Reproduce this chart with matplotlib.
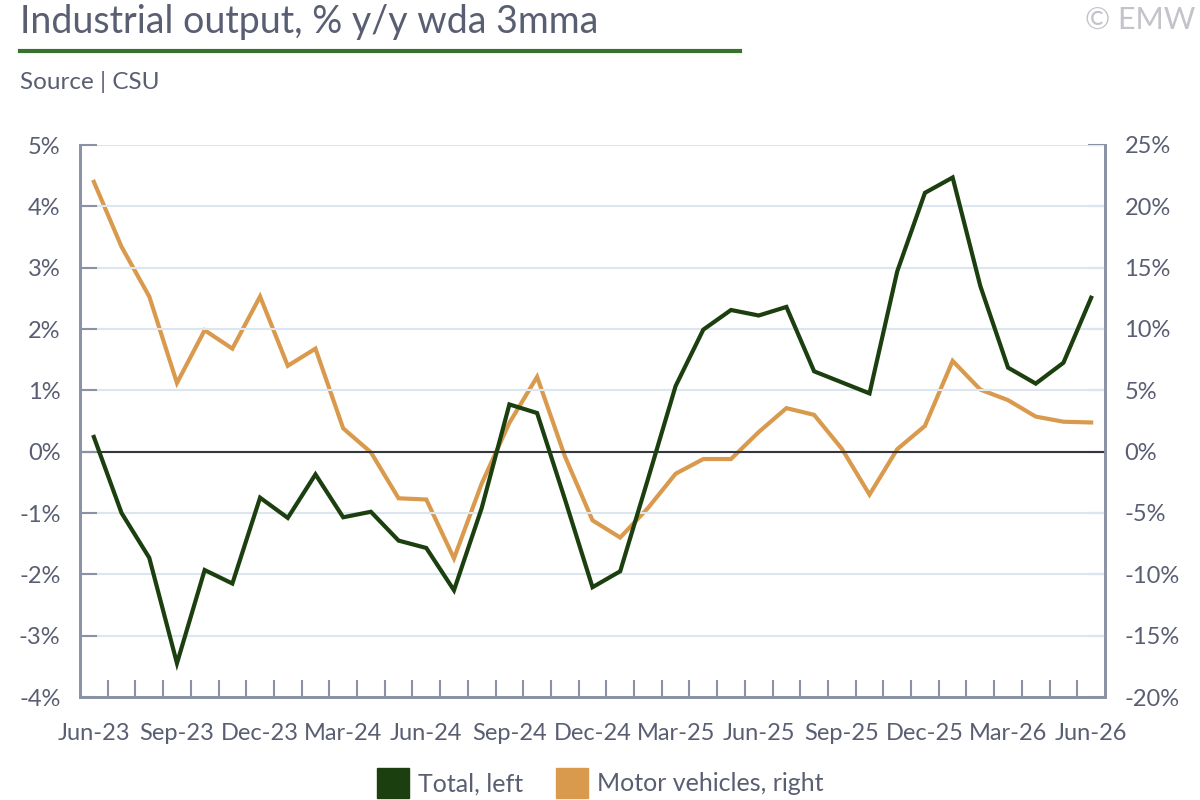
import matplotlib
matplotlib.use("Agg")
import matplotlib.pyplot as plt
from matplotlib.patches import Patch
from matplotlib.lines import Line2D
import numpy as np

plt.rcParams['font.family'] = ['Lato', 'DejaVu Sans']

months = ["Jun-23", "Jul-23", "Aug-23", "Sep-23", "Oct-23", "Nov-23", "Dec-23",
          "Jan-24", "Feb-24", "Mar-24", "Apr-24", "May-24", "Jun-24", "Jul-24",
          "Aug-24", "Sep-24", "Oct-24", "Nov-24", "Dec-24", "Jan-25", "Feb-25",
          "Mar-25", "Apr-25", "May-25", "Jun-25", "Jul-25", "Aug-25", "Sep-25",
          "Oct-25", "Nov-25", "Dec-25", "Jan-26", "Feb-26", "Mar-26", "Apr-26",
          "May-26", "Jun-26"]

# total industrial output, left axis (%)
total = [0.24, -1.00, -1.73, -3.45, -1.93, -2.15, -0.75, -1.08, -0.37, -1.07,
         -0.98, -1.45, -1.57, -2.26, -0.92, 0.77, 0.63, -0.77, -2.21, -1.95,
         -0.45, 1.07, 1.99, 2.31, 2.22, 2.36, 1.31, 1.13, 0.95, 2.94, 4.22,
         4.47, 2.70, 1.37, 1.11, 1.45, 2.51]

# motor vehicles, right axis (%)
motor = [22.0, 16.7, 12.65, 5.6, 9.9, 8.4, 12.65, 7.0, 8.4, 1.9, -0.05, -3.8,
         -3.9, -8.7, -2.6, 2.35, 6.1, -0.36, -5.6, -7.0, -4.6, -1.8, -0.6, -0.6,
         1.6, 3.55, 3.0, 0.24, -3.5, 0.2, 2.1, 7.4, 5.06, 4.2, 2.86, 2.44, 2.38]

left_ticks = [-4, -3, -2, -1, 0, 1, 2, 3, 4, 5]
right_ticks = [-20, -15, -10, -5, 0, 5, 10, 15, 20, 25]

green = "#1c3f0f"
orange = "#d99a4e"
txt = "#5a5e72"
spine = "#8a92a4"
grid = "#dbe6f1"

fig = plt.figure(figsize=(12, 8), dpi=100)
ax = fig.add_axes([80 / 1200, 1 - 697 / 800, 1025 / 1200, 552 / 800])
ax2 = ax.twinx()

x = np.arange(len(months))

for v in left_ticks[1:]:
    ax.axhline(v, color=grid, lw=1.5, zorder=0)
ax.axhline(0, color="#33363d", lw=1.5, zorder=1)

ax.plot(x, total, color=green, lw=3, zorder=3, solid_joinstyle="miter")
ax2.plot(x, motor, color=orange, lw=3, zorder=2, solid_joinstyle="miter")
ax.set_zorder(ax2.get_zorder() + 1)
ax.patch.set_visible(False)

ax.set_xlim(-0.5, len(months) - 0.5)
ax.set_ylim(-4, 5)
ax2.set_ylim(-20, 25)

ax.set_yticks(left_ticks)
ax.set_yticklabels([f"{v}%" for v in left_ticks])
ax2.set_yticks(right_ticks)
ax2.set_yticklabels([f"{v}%" for v in right_ticks])

ax.set_xticks(x[::3])
ax.set_xticklabels(months[::3])
ax.set_xticks(np.arange(0.5, len(months) - 1, 1), minor=True)

ax.tick_params(axis="x", which="major", length=0, pad=19, labelsize=17, labelcolor=txt)
ax.tick_params(axis="x", which="minor", direction="in", length=12, width=1.5, color=spine)
ax.tick_params(axis="y", direction="in", length=12, width=1.5, color=spine,
               labelsize=17, labelcolor=txt, pad=14)
ax2.tick_params(axis="y", direction="in", length=12, width=1.5, color=spine,
                labelsize=17, labelcolor=txt, pad=14)

for a in (ax, ax2):
    a.spines["top"].set_visible(False)
    for s in ("left", "right", "bottom"):
        a.spines[s].set_color(spine)
        a.spines[s].set_linewidth(2)

# title block
fig.text(20 / 1200, 1 - 22 / 800, "Industrial output, % y/y wda 3mma", fontsize=27,
         color=txt, va="center", ha="left")
fig.add_artist(Line2D([20 / 1200, 740 / 1200], [1 - 51 / 800, 1 - 51 / 800],
                      color="#3b7130", lw=3))
fig.text(20 / 1200, 1 - 82 / 800, "Source | CSU", fontsize=17.5, color=txt,
         va="center", ha="left")
fig.text(1195 / 1200, 1 - 20 / 800, "© EMW", fontsize=22, color="#c3c4cb",
         va="center", ha="right")

handles = [Patch(color=green, label="Total, left"),
           Patch(color=orange, label="Motor vehicles, right")]
fig.legend(handles=handles, loc="center", bbox_to_anchor=(0.5, 1 - 783 / 800),
           ncol=2, frameon=False, fontsize=18, handlelength=1.3, handleheight=1.45,
           handletextpad=0.35, columnspacing=1.3, labelcolor=txt)

fig.savefig("out.png", dpi=100)
